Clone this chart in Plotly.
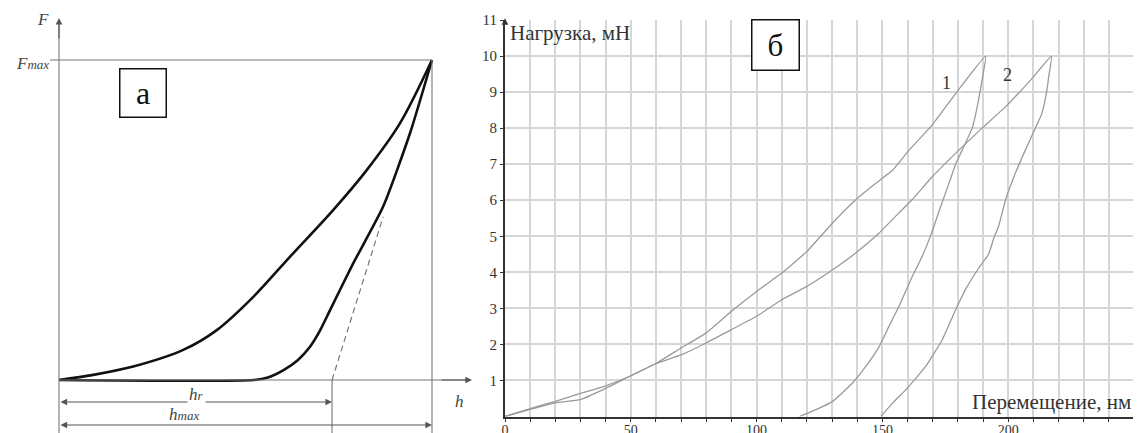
import plotly.graph_objects as go

# page offset: the html body has an 8px margin, so the figure starts at page pixel (8, 8)
OFF = 8
PW, PH = 1141, 433
W, H = PW - OFF, PH - OFF

# ---------------- Panel a (schematic, normalized units h/hmax, F/Fmax) ----------------
a_load_h = [0, 0.092, 0.199, 0.333, 0.423, 0.521, 0.619, 0.735, 0.825, 0.914, 1.0]
a_load_F = [0, 0.016, 0.042, 0.094, 0.156, 0.260, 0.385, 0.531, 0.656, 0.802, 1.0]
a_unload_h = [0, 0.521, 0.560, 0.602, 0.640, 0.673, 0.700, 0.727, 0.789, 0.869, 0.941, 1.0]
a_unload_F = [0, 0.0, 0.008, 0.031, 0.062, 0.104, 0.155, 0.219, 0.365, 0.542, 0.771, 1.0]
a_hr = 0.732
a_tangent_h = [a_hr, 0.869]
a_tangent_F = [0, 0.51]

# ---------------- Panel б (measured curves, nm / mN) ----------------
c1_h = [0, 10, 20, 30, 40, 50, 60, 70, 80, 90, 100, 110, 120, 130.2, 139.5, 147, 154, 160.6, 169.2, 179.1, 191,
        189.6, 187.7, 185.7, 181.7, 179.1, 176.4, 173.1, 169.5, 165.8, 161.9, 156.6, 152.6, 148.7, 143.4, 138.1,
        130.2, 123.6, 117]
c1_F = [0, 0.2, 0.38, 0.47, 0.78, 1.13, 1.47, 1.9, 2.32, 2.92, 3.47, 3.98, 4.58, 5.37, 6.02, 6.45, 6.83, 7.39, 8.04, 8.96, 10,
        9.33, 8.6, 8.0, 7.39, 7.0, 6.46, 5.81, 5.08, 4.44, 3.89, 3.06, 2.5, 1.94, 1.39, 0.93,
        0.42, 0.19, 0]
c2_h = [0, 10, 20, 30, 40, 50, 60, 70, 80, 90, 100, 110, 120, 130.2, 139.5, 148.7, 156.6, 161.9, 169.8, 180.4, 189.6,
        198.9, 209.5, 217.2,
        216.1, 215.4, 213.4, 210.8, 206.8, 202.8, 198.9, 196.2, 194.3, 192.2, 188.3, 183, 179.1, 173.8, 167.2, 159.3,
        154, 149.4]
c2_F = [0, 0.22, 0.42, 0.64, 0.85, 1.13, 1.47, 1.71, 2.04, 2.41, 2.78, 3.24, 3.61, 4.07, 4.54, 5.09, 5.65, 6.02, 6.65, 7.39, 8.0,
        8.59, 9.38, 10,
        9.43, 9.06, 8.41, 8.0, 7.39, 6.74, 6.0, 5.28, 4.95, 4.5, 4.12, 3.52, 2.96, 2.13, 1.39, 0.74,
        0.37, 0]
x_ticks = [0, 50, 100, 150, 200, 250]
y_ticks = [1, 2, 3, 4, 5, 6, 7, 8, 9, 10, 11]

SERIF = "Liberation Serif, Times New Roman, serif"
fig = go.Figure()

fig.add_trace(go.Scatter(x=a_load_h, y=a_load_F, mode="lines", line=dict(color="#111", width=2.6, shape="spline", smoothing=0.9),
                         xaxis="x", yaxis="y", showlegend=False, hoverinfo="skip"))
fig.add_trace(go.Scatter(x=a_unload_h, y=a_unload_F, mode="lines", line=dict(color="#111", width=2.6, shape="spline", smoothing=0.6),
                         xaxis="x", yaxis="y", showlegend=False, hoverinfo="skip"))
fig.add_trace(go.Scatter(x=a_tangent_h, y=a_tangent_F, mode="lines", line=dict(color="#777", width=1.2, dash="6px,4px"),
                         xaxis="x", yaxis="y", showlegend=False, hoverinfo="skip"))

for hx_, fy_ in [(c1_h, c1_F), (c2_h, c2_F)]:
    fig.add_trace(go.Scatter(x=hx_, y=fy_, mode="lines", line=dict(color="#9a9a9a", width=1.3, shape="spline", smoothing=0.4),
                             xaxis="x2", yaxis="y2", showlegend=False, hoverinfo="skip"))

# panel a page-pixel mapping: h 0->59px, 1->432px ; F 0->380px, 1->60px
def hx(px):
    return (px - 59) / 373.0

def fy(py):
    return (380 - py) / 320.0

gray = "#777"
shapes = [
    dict(type="line", xref="x", yref="y", x0=0, x1=0, y0=fy(433), y1=fy(24), line=dict(color=gray, width=1.1)),
    dict(type="line", xref="x", yref="y", x0=0, x1=hx(466), y0=0, y1=0, line=dict(color=gray, width=1.1)),
    dict(type="line", xref="x", yref="y", x0=hx(50), x1=1, y0=1, y1=1, line=dict(color=gray, width=1.1)),
    dict(type="line", xref="x", yref="y", x0=1, x1=1, y0=1, y1=fy(433), line=dict(color=gray, width=1.1)),
    dict(type="line", xref="x", yref="y", x0=a_hr, x1=a_hr, y0=0, y1=fy(433), line=dict(color=gray, width=1.1)),
]

annotations = []
def arrow(x0, y0, x1, y1, both=False, xr="x", yr="y", color="#555"):
    annotations.append(dict(x=x1, y=y1, ax=x0, ay=y0, xref=xr, yref=yr, axref=xr, ayref=yr, text="",
                            showarrow=True, arrowhead=2, arrowsize=1.2, arrowwidth=1.1, arrowcolor=color,
                            arrowside="end+start" if both else "end"))

arrow(0, fy(40), 0, fy(18))
arrow(hx(440), 0, hx(472), 0)
arrow(0, fy(402), a_hr, fy(402), both=True)
arrow(0, fy(425), 1, fy(425), both=True)

def txt(x, y, s, size=15, xanchor="center", xr="x", yr="y", bg=None, color="#222"):
    d = dict(x=x, y=y, xref=xr, yref=yr, text=s, showarrow=False, xanchor=xanchor, yanchor="middle",
             font=dict(family=SERIF, size=size, color=color))
    if bg:
        d["bgcolor"] = bg
    annotations.append(d)

SUB = "<span style='font-size:13px'>%s</span>"
txt(hx(43), fy(19), "<i>F</i>", 17, color="#444")
txt(hx(51), fy(63), "<i>F" + SUB % "max" + "</i>", 17, xanchor="right", color="#444")
txt(hx(459), fy(401), "<i>h</i>", 17, color="#444")
txt(hx(196), fy(394), "<i>h" + SUB % "r" + "</i>", 17, bg="white", color="#444")
txt(hx(184), fy(414), "<i>h" + SUB % "max" + "</i>", 17, color="#444")
annotations.append(dict(x=hx(143), y=fy(93), xref="x", yref="y", text="а", showarrow=False,
                        font=dict(family=SERIF, size=32, color="#111"), bordercolor="#111", borderwidth=1.5,
                        width=43, height=45, bgcolor="white"))

# panel б texts
arrow(0, 10.9, 0, 11.05, xr="x2", yr="y2", color="#333")
txt(1.2, 10.64, "Нагрузка, мН", 21, xanchor="left", xr="x2", yr="y2", color="#333")
txt(249.5, 0.4, "Перемещение, нм", 21, xanchor="right", xr="x2", yr="y2", color="#333")
txt(175.4, 9.25, "1", 18, xr="x2", yr="y2", color="#333")
txt(199.6, 9.47, "2", 18, xr="x2", yr="y2", color="#333")
annotations.append(dict(x=107.5, y=10.3, xref="x2", yref="y2", text="б", showarrow=False,
                        font=dict(family=SERIF, size=31, color="#111"), bordercolor="#111", borderwidth=1.5,
                        width=44, height=47, bgcolor="white"))

grid = "#d6d6d6"
fig.update_layout(
    template="none",
    width=W, height=H, margin=dict(l=0, r=0, t=0, b=0, pad=0), autosize=False,
    paper_bgcolor="white", plot_bgcolor="white",
    shapes=shapes, annotations=annotations,
    xaxis=dict(domain=[0, (480 - OFF) / W], range=[hx(OFF), hx(480)], visible=False, fixedrange=True, automargin=False),
    yaxis=dict(domain=[0, 1], range=[fy(PH), fy(OFF)], visible=False, fixedrange=True, automargin=False),
    xaxis2=dict(domain=[(505 - OFF) / W, (1134 - OFF) / W], range=[0, 250], anchor="y2", automargin=False,
                tickvals=x_ticks, ticks="", ticklen=0,
                showgrid=True, gridcolor=grid, gridwidth=1.5,
                minor=dict(dtick=10, showgrid=True, gridcolor=grid, gridwidth=1.5, ticks="outside", ticklen=3, tickcolor="#333"),
                showline=True, linecolor="#333", linewidth=2.2, zeroline=False,
                tickfont=dict(family=SERIF, size=14, color="#333")),
    yaxis2=dict(domain=[(PH - 416.5) / H, (PH - 20) / H], range=[0, 11], anchor="x2", automargin=False,
                tickvals=y_ticks, ticks="outside", ticklen=3, tickcolor="#333",
                showgrid=True, gridcolor=grid, gridwidth=1.5,
                showline=True, linecolor="#333", linewidth=2.2, zeroline=False,
                tickfont=dict(family=SERIF, size=15, color="#333")),
)

fig.write_html("out.html")
